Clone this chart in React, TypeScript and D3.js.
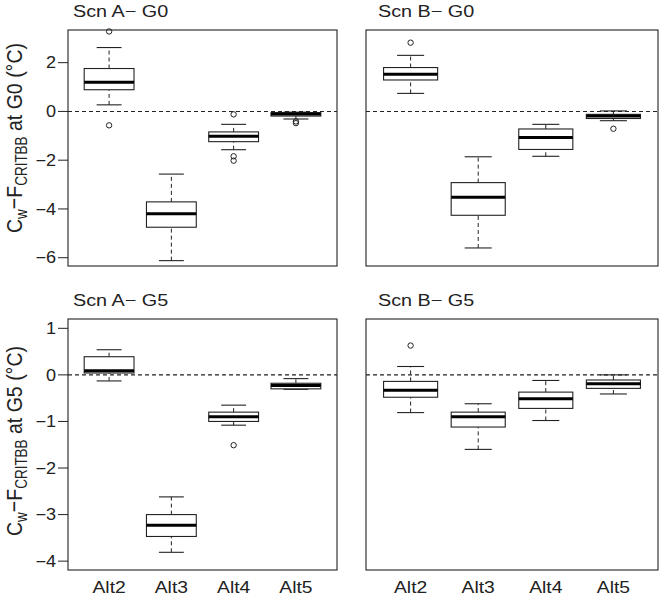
import * as d3 from "d3";

// Five-number summaries per group: [lowerWhisker, q1, median, q3, upperWhisker]
const groups = ["Alt2", "Alt3", "Alt4", "Alt5"];

const statsAG0 = [
  [0.27, 0.89, 1.2, 1.76, 2.62],
  [-6.12, -4.75, -4.2, -3.71, -2.57],
  [-1.57, -1.24, -1.02, -0.84, -0.53],
  [-0.31, -0.19, -0.11, -0.05, -0.03],
];
const outliersAG0 = [[3.28, -0.57], [], [-0.12, -1.84, -2.02], [-0.41, -0.48]];

const statsBG0 = [
  [0.74, 1.29, 1.52, 1.8, 2.3],
  [-5.6, -4.26, -3.52, -2.92, -1.86],
  [-1.84, -1.56, -1.07, -0.72, -0.53],
  [-0.38, -0.29, -0.19, -0.12, 0.02],
];
const outliersBG0 = [[2.82], [], [], [-0.71]];

const statsAG5 = [
  [-0.13, 0.04, 0.09, 0.39, 0.54],
  [-3.81, -3.47, -3.23, -3.0, -2.62],
  [-1.08, -1.0, -0.9, -0.8, -0.65],
  [-0.31, -0.3, -0.23, -0.18, -0.08],
];
const outliersAG5 = [[], [], [-1.51], []];

const statsBG5 = [
  [-0.81, -0.48, -0.33, -0.14, 0.18],
  [-1.6, -1.12, -0.9, -0.8, -0.62],
  [-0.98, -0.72, -0.51, -0.37, -0.12],
  [-0.41, -0.29, -0.19, -0.11, 0.0],
];
const outliersBG5 = [[0.63], [], [], []];

const ticksG0 = [2, 0, -2, -4, -6];
const ticksG5 = [1, 0, -1, -2, -3, -4];

const FONT = "'Liberation Sans', Arial, Helvetica, sans-serif";
const INK = "#222";
const FS = 16.5;
const SX = 1.17; // the source figure is slightly stretched horizontally

type TProps = {
  x: number;
  y: number;
  anchor?: "start" | "middle" | "end";
  dy?: string;
  size?: number;
  sx?: number;
  children: React.ReactNode;
};

const T = ({ x, y, anchor = "start", dy, size = FS, sx = SX, children }: TProps) => (
  <text
    transform={`translate(${x},${y}) scale(${sx},1)`}
    textAnchor={anchor}
    dy={dy}
    fontSize={size}
    fill={INK}
    fontFamily={FONT}
  >
    {children}
  </text>
);

type PanelProps = {
  title: string;
  titleX: number;
  x0: number;
  x1: number;
  y0: number;
  y1: number;
  domain: [number, number];
  stats: number[][];
  outliers: number[][];
  ticks?: number[];
  showX: boolean;
};

const Panel = ({ title, titleX, x0, x1, y0, y1, domain, stats, outliers, ticks, showX }: PanelProps) => {
  const x = d3.scaleLinear().domain([0.34, 4.66]).range([x0, x1]);
  const y = d3.scaleLinear().domain(domain).range([y1, y0]);
  const unit = x(1) - x(0);
  const bw = unit * 0.8;
  const cap = bw / 2;
  const fmt = (v: number) => (v < 0 ? "\u2212" + Math.abs(v) : String(v));

  return (
    <g>
      <T x={titleX} y={y0 - 13} sx={1.2}>
        {title}
      </T>
      <line x1={x0} x2={x1} y1={y(0)} y2={y(0)} stroke={INK} strokeDasharray="4,3" strokeWidth={1.1} />
      {stats.map((s, i) => {
        const cx = x(i + 1);
        return (
          <g key={i}>
            <line x1={cx} x2={cx} y1={y(s[0])} y2={y(s[1])} stroke={INK} strokeDasharray="4,3" />
            <line x1={cx} x2={cx} y1={y(s[3])} y2={y(s[4])} stroke={INK} strokeDasharray="4,3" />
            <line x1={cx - cap / 2} x2={cx + cap / 2} y1={y(s[0])} y2={y(s[0])} stroke={INK} strokeWidth={1.1} />
            <line x1={cx - cap / 2} x2={cx + cap / 2} y1={y(s[4])} y2={y(s[4])} stroke={INK} strokeWidth={1.1} />
            <rect
              x={cx - bw / 2}
              y={y(s[3])}
              width={bw}
              height={Math.max(0, y(s[1]) - y(s[3]))}
              fill="white"
              stroke={INK}
              strokeWidth={1.1}
            />
            <line x1={cx - bw / 2} x2={cx + bw / 2} y1={y(s[2])} y2={y(s[2])} stroke="#000" strokeWidth={3} />
            {outliers[i].map((o, j) => (
              <circle key={j} cx={cx} cy={y(o)} r={2.7} fill="none" stroke={INK} strokeWidth={1} />
            ))}
          </g>
        );
      })}
      <rect x={x0} y={y0} width={x1 - x0} height={y1 - y0} fill="none" stroke={INK} strokeWidth={1.1} />
      {ticks &&
        ticks.map((t) => (
          <g key={t}>
            <line x1={x0 - 10} x2={x0} y1={y(t)} y2={y(t)} stroke={INK} />
            <T x={x0 - 12} y={y(t)} dy="0.36em" anchor="end" size={16} sx={1.13}>
              {fmt(t)}
            </T>
          </g>
        ))}
      {showX &&
        groups.map((g, i) => (
          <T key={g} x={x(i + 1)} y={y1 + 23} anchor="middle">
            {g}
          </T>
        ))}
    </g>
  );
};

const YTitle = ({ cx, cy, level }: { cx: number; cy: number; level: string }) => (
  <text
    transform={`translate(${cx},${cy}) scale(${SX},1) rotate(-90)`}
    textAnchor="middle"
    fontSize={19.5}
    fill={INK}
    fontFamily={FONT}
  >
    C
    <tspan fontSize={13.5} dy={4}>
      w
    </tspan>
    <tspan dy={-4}>{"\u2212F"}</tspan>
    <tspan fontSize={13.5} dy={4}>
      CRITBB
    </tspan>
    <tspan dy={-4}>{` at ${level} (\u00B0C)`}</tspan>
  </text>
);

const App = () => {
  return (
    <svg width={659} height={598} style={{ position: "absolute", left: 0, top: 0, background: "white" }}>
      <Panel
        title={"Scn A\u2212 G0"}
        titleX={73}
        x0={68}
        x1={337}
        y0={30}
        y1={266}
        domain={[-6.34, 3.34]}
        stats={statsAG0}
        outliers={outliersAG0}
        ticks={ticksG0}
        showX={false}
      />
      <Panel
        title={"Scn B\u2212 G0"}
        titleX={378}
        x0={366}
        x1={658}
        y0={30}
        y1={266}
        domain={[-6.34, 3.34]}
        stats={statsBG0}
        outliers={outliersBG0}
        showX={false}
      />
      <Panel
        title={"Scn A\u2212 G5"}
        titleX={73}
        x0={68}
        x1={337}
        y0={319}
        y1={570}
        domain={[-4.19, 1.2]}
        stats={statsAG5}
        outliers={outliersAG5}
        ticks={ticksG5}
        showX={true}
      />
      <Panel
        title={"Scn B\u2212 G5"}
        titleX={378}
        x0={366}
        x1={658}
        y0={319}
        y1={570}
        domain={[-4.19, 1.2]}
        stats={statsBG5}
        outliers={outliersBG5}
        showX={true}
      />
      <YTitle cx={22} cy={138} level="G0" />
      <YTitle cx={22} cy={441} level="G5" />
    </svg>
  );
};

export default App;
